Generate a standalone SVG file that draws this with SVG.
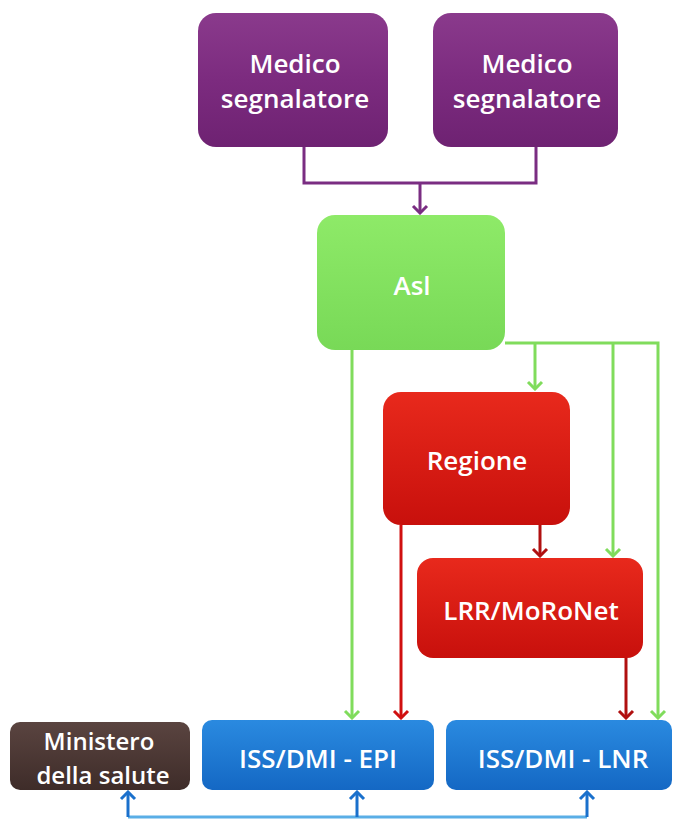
<svg xmlns="http://www.w3.org/2000/svg" width="674" height="819" viewBox="0 0 674 819">
<style>
.lbl{font-family:"Open Sans","Noto Sans","Liberation Sans",sans-serif;font-size:26px;font-weight:600;fill:#ffffff;text-anchor:middle}
.sm{font-size:24px}
.c{fill:none;stroke-width:3}
.pu{stroke:#7a2d82}
.gr{stroke:#80dc5c}
.rd{stroke:#d01010}
.dr{stroke:#b01010}
.bl{stroke:#1a70cc}
</style>
<defs>
<linearGradient id="gPu" x1="0" y1="0" x2="0" y2="1"><stop offset="0" stop-color="#8a3a8c"/><stop offset="0.5" stop-color="#7c2b7f"/><stop offset="1" stop-color="#6e2272"/></linearGradient>
<linearGradient id="gGr" x1="0" y1="0" x2="0" y2="1"><stop offset="0" stop-color="#8eea68"/><stop offset="1" stop-color="#78d957"/></linearGradient>
<linearGradient id="gRd" x1="0" y1="0" x2="0" y2="1"><stop offset="0" stop-color="#e8291c"/><stop offset="1" stop-color="#c8100c"/></linearGradient>
<linearGradient id="gBl" x1="0" y1="0" x2="0" y2="1"><stop offset="0" stop-color="#2a8ae0"/><stop offset="1" stop-color="#1468c4"/></linearGradient>
<linearGradient id="gBr" x1="0" y1="0" x2="0" y2="1"><stop offset="0" stop-color="#5a4440"/><stop offset="1" stop-color="#3e2c29"/></linearGradient>
<marker id="aPu" viewBox="-9 -9 11 18" refX="0" refY="0" markerWidth="11" markerHeight="18" markerUnits="userSpaceOnUse" orient="auto"><path d="M-7,-7 L0,0 L-7,7" fill="none" stroke="#7a2d82" stroke-width="3"/></marker>
<marker id="aGr" viewBox="-9 -9 11 18" refX="0" refY="0" markerWidth="11" markerHeight="18" markerUnits="userSpaceOnUse" orient="auto"><path d="M-7,-7 L0,0 L-7,7" fill="none" stroke="#80dc5c" stroke-width="3"/></marker>
<marker id="aRd" viewBox="-9 -9 11 18" refX="0" refY="0" markerWidth="11" markerHeight="18" markerUnits="userSpaceOnUse" orient="auto"><path d="M-7,-7 L0,0 L-7,7" fill="none" stroke="#d01010" stroke-width="3"/></marker>
<marker id="aDr" viewBox="-9 -9 11 18" refX="0" refY="0" markerWidth="11" markerHeight="18" markerUnits="userSpaceOnUse" orient="auto"><path d="M-7,-7 L0,0 L-7,7" fill="none" stroke="#b01010" stroke-width="3"/></marker>
<marker id="aBl" viewBox="-9 -9 11 18" refX="0" refY="0" markerWidth="11" markerHeight="18" markerUnits="userSpaceOnUse" orient="auto"><path d="M-7,-7 L0,0 L-7,7" fill="none" stroke="#1a70cc" stroke-width="3"/></marker>
</defs>
<rect width="674" height="819" fill="#ffffff"/>
<g id="connectors">
<polyline class="c pu" points="304,147 304,183 536,183 536,147"/>
<line class="c pu" x1="420" y1="183" x2="420" y2="213" marker-end="url(#aPu)"/>
<polyline class="c gr" points="505,343 658,343 658,718" marker-end="url(#aGr)"/>
<line class="c gr" x1="535" y1="343" x2="535" y2="389" marker-end="url(#aGr)"/>
<line class="c gr" x1="613" y1="343" x2="613" y2="556" marker-end="url(#aGr)"/>
<line class="c gr" x1="352" y1="350" x2="352" y2="718" marker-end="url(#aGr)"/>
<line class="c rd" x1="401" y1="525" x2="401" y2="718" marker-end="url(#aRd)"/>
<line class="c dr" x1="540" y1="525" x2="540" y2="556" marker-end="url(#aDr)"/>
<line class="c dr" x1="626" y1="658" x2="626" y2="718" marker-end="url(#aDr)"/>
<polyline class="c" stroke="#5aaee6" points="128,817 587,817"/>
<line class="c bl" x1="128" y1="817" x2="128" y2="792" marker-end="url(#aBl)"/>
<line class="c bl" x1="357" y1="817" x2="357" y2="792" marker-end="url(#aBl)"/>
<line class="c bl" x1="587" y1="817" x2="587" y2="792" marker-end="url(#aBl)"/>
</g>
<g id="medico1">
<rect x="198" y="13" width="190" height="134" rx="18" fill="url(#gPu)"/>
<text class="lbl" x="295" y="73">Medico</text>
<text class="lbl" x="295" y="108">segnalatore</text>
</g>
<g id="medico2">
<rect x="433" y="13" width="185" height="134" rx="18" fill="url(#gPu)"/>
<text class="lbl" x="527" y="73">Medico</text>
<text class="lbl" x="527" y="108">segnalatore</text>
</g>
<g id="asl">
<rect x="317" y="215" width="188" height="135" rx="18" fill="url(#gGr)"/>
<text class="lbl" x="412" y="295">Asl</text>
</g>
<g id="regione">
<rect x="383" y="392" width="187" height="133" rx="18" fill="url(#gRd)"/>
<text class="lbl" x="477" y="470">Regione</text>
</g>
<g id="lrr">
<rect x="417" y="558" width="226" height="100" rx="16" fill="url(#gRd)"/>
<text class="lbl" x="531" y="620">LRR/MoRoNet</text>
</g>
<g id="ministero">
<rect x="10" y="722" width="180" height="68" rx="10" fill="url(#gBr)"/>
<text class="lbl sm" x="99" y="750">Ministero</text>
<text class="lbl sm" x="103" y="784">della salute</text>
</g>
<g id="iss-epi">
<rect x="202" y="720" width="232" height="70" rx="10" fill="url(#gBl)"/>
<text class="lbl" x="318" y="768">ISS/DMI - EPI</text>
</g>
<g id="iss-lnr">
<rect x="446" y="720" width="226" height="70" rx="10" fill="url(#gBl)"/>
<text class="lbl" x="563" y="768">ISS/DMI - LNR</text>
</g>
</svg>
